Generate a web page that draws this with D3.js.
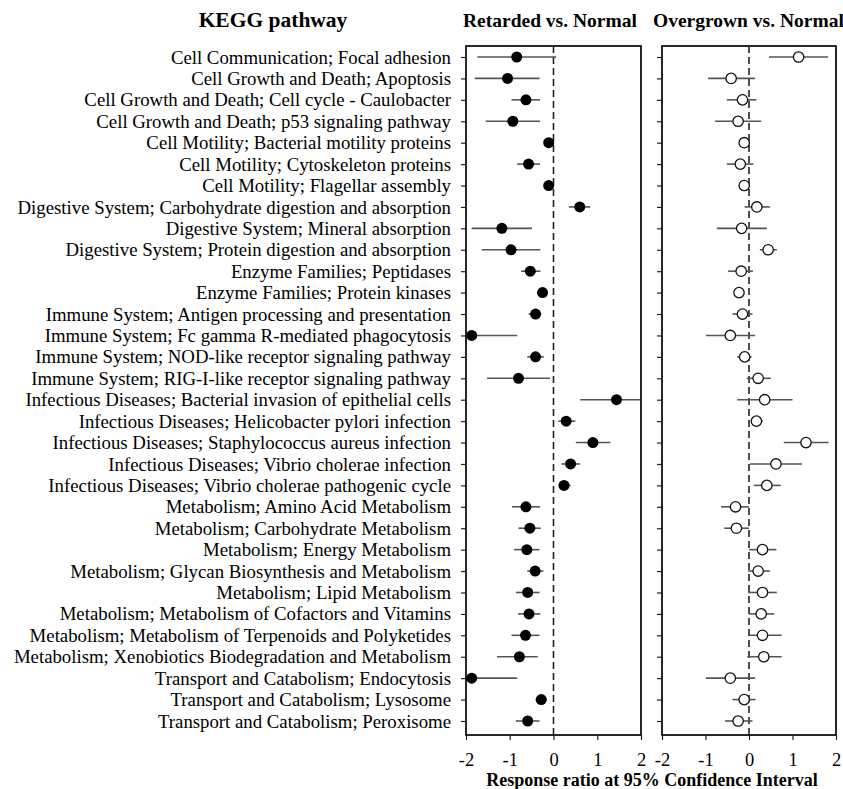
<!DOCTYPE html>
<html>
<head>
<meta charset="UTF-8" />
<title>KEGG pathway response ratios</title>
<script src="https://d3js.org/d3.v7.min.js"></script>
<style>
  html, body { margin: 0; padding: 0; background: #fff; }
  svg text { font-family: "Liberation Serif", "Times New Roman", serif; fill: #000; }
</style>
</head>
<body>
<div id="chart"></div>
<script>
// KEGG pathway categories (top to bottom)
const pathways = [
  "Cell Communication; Focal adhesion",
  "Cell Growth and Death; Apoptosis",
  "Cell Growth and Death; Cell cycle - Caulobacter",
  "Cell Growth and Death; p53 signaling pathway",
  "Cell Motility; Bacterial motility proteins",
  "Cell Motility; Cytoskeleton proteins",
  "Cell Motility; Flagellar assembly",
  "Digestive System; Carbohydrate digestion and absorption",
  "Digestive System; Mineral absorption",
  "Digestive System; Protein digestion and absorption",
  "Enzyme Families; Peptidases",
  "Enzyme Families; Protein kinases",
  "Immune System; Antigen processing and presentation",
  "Immune System; Fc gamma R-mediated phagocytosis",
  "Immune System; NOD-like receptor signaling pathway",
  "Immune System; RIG-I-like receptor signaling pathway",
  "Infectious Diseases; Bacterial invasion of epithelial cells",
  "Infectious Diseases; Helicobacter pylori infection",
  "Infectious Diseases; Staphylococcus aureus infection",
  "Infectious Diseases; Vibrio cholerae infection",
  "Infectious Diseases; Vibrio cholerae pathogenic cycle",
  "Metabolism; Amino Acid Metabolism",
  "Metabolism; Carbohydrate Metabolism",
  "Metabolism; Energy Metabolism",
  "Metabolism; Glycan Biosynthesis and Metabolism",
  "Metabolism; Lipid Metabolism",
  "Metabolism; Metabolism of Cofactors and Vitamins",
  "Metabolism; Metabolism of Terpenoids and Polyketides",
  "Metabolism; Xenobiotics Biodegradation and Metabolism",
  "Transport and Catabolism; Endocytosis",
  "Transport and Catabolism; Lysosome",
  "Transport and Catabolism; Peroxisome"
];

// Retarded vs. Normal: mean, lower, upper
const retardedMean = [-0.84, -1.05, -0.63, -0.93, -0.11, -0.57, -0.11, 0.60, -1.18, -0.97,
  -0.53, -0.25, -0.41, -1.87, -0.41, -0.80, 1.44, 0.29, 0.90, 0.39, 0.24,
  -0.63, -0.54, -0.61, -0.42, -0.59, -0.56, -0.64, -0.78, -1.87, -0.28, -0.59];
const retardedLow = [-1.74, -1.80, -0.96, -1.55, -0.15, -0.83, -0.15, 0.35, -1.87, -1.64,
  -0.74, -0.38, -0.57, -1.98, -0.60, -1.52, 0.61, 0.11, 0.51, 0.18, 0.12,
  -0.95, -0.80, -0.90, -0.60, -0.86, -0.81, -0.96, -1.29, -1.98, -0.41, -0.86];
const retardedHigh = [0.06, -0.32, -0.31, -0.31, -0.07, -0.31, -0.07, 0.84, -0.49, -0.30,
  -0.30, -0.13, -0.28, -0.83, -0.22, -0.08, 1.98, 0.50, 1.30, 0.61, 0.39,
  -0.31, -0.29, -0.32, -0.23, -0.32, -0.30, -0.32, -0.36, -0.83, -0.15, -0.32];

// Overgrown vs. Normal: mean, lower, upper
const overgrownMean = [1.14, -0.41, -0.15, -0.25, -0.11, -0.20, -0.11, 0.18, -0.17, 0.44,
  -0.18, -0.23, -0.15, -0.43, -0.10, 0.21, 0.36, 0.17, 1.31, 0.62, 0.41,
  -0.31, -0.29, 0.31, 0.21, 0.31, 0.28, 0.31, 0.34, -0.43, -0.11, -0.25];
const overgrownLow = [0.46, -0.94, -0.51, -0.78, -0.14, -0.51, -0.14, -0.10, -0.74, 0.25,
  -0.48, -0.26, -0.38, -0.99, -0.27, -0.05, -0.27, 0.05, 0.80, 0.02, 0.11,
  -0.64, -0.57, 0.00, -0.02, -0.02, 0.00, -0.02, -0.04, -0.99, -0.38, -0.55];
const overgrownHigh = [1.82, 0.14, 0.17, 0.28, -0.08, 0.10, -0.08, 0.48, 0.41, 0.64,
  0.09, -0.20, 0.08, 0.14, 0.06, 0.50, 1.00, 0.32, 1.83, 1.22, 0.73,
  0.00, 0.00, 0.63, 0.48, 0.64, 0.58, 0.75, 0.75, 0.14, 0.15, 0.08];

const xTicks = [-2, -1, 0, 1, 2];

const width = 843, height = 789;
const frameTop = 46, frameBottom = 735;

const svg = d3.select("#chart").append("svg")
  .attr("width", width)
  .attr("height", height);

const y = d3.scalePoint()
  .domain(pathways)
  .range([57, 721]);

// headers
svg.append("text")
  .attr("x", 273).attr("y", 27)
  .attr("text-anchor", "middle")
  .attr("font-weight", "bold")
  .attr("font-size", 21.5)
  .text("KEGG pathway");

// row labels
svg.selectAll(".row-label")
  .data(pathways)
  .enter()
  .append("text")
  .attr("class", "row-label")
  .attr("x", 451)
  .attr("y", d => y(d))
  .attr("dy", "0.35em")
  .attr("text-anchor", "end")
  .attr("font-size", 18.8)
  .text(d => d);

const panels = [
  { title: "Retarded vs. Normal", x0: 466, x1: 641, filled: true, titleX: 463,
    mean: retardedMean, low: retardedLow, high: retardedHigh },
  { title: "Overgrown vs. Normal", x0: 662, x1: 836, filled: false, titleX: 653,
    mean: overgrownMean, low: overgrownLow, high: overgrownHigh }
];

panels.forEach(p => {
  const x = d3.scaleLinear().domain([-2, 2]).range([p.x0, p.x1]);
  const g = svg.append("g");

  g.append("text")
    .attr("x", p.titleX)
    .attr("y", 27)
    .attr("font-weight", "bold")
    .attr("font-size", 19.5)
    .text(p.title);

  // left axis ticks (no labels)
  g.append("g")
    .attr("transform", `translate(${p.x0},0)`)
    .call(d3.axisLeft(y).tickSize(5).tickFormat(""))
    .call(a => a.select(".domain").remove())
    .call(a => a.selectAll("line").attr("stroke", "#222").attr("stroke-width", 1.2));

  // bottom axis
  g.append("g")
    .attr("transform", `translate(0,${frameBottom})`)
    .call(d3.axisBottom(x).tickValues(xTicks).tickSize(5).tickPadding(13).tickFormat(d3.format("d")))
    .call(a => a.select(".domain").remove())
    .call(a => a.selectAll("line").attr("stroke", "#222").attr("stroke-width", 1.2))
    .call(a => a.selectAll("text")
      .attr("font-size", 18.5)
      .attr("font-family", "Liberation Serif, serif")
      .attr("fill", "#111")
      .text(d => d < 0 ? "-" + Math.abs(d) : d));

  // frame
  g.append("rect")
    .attr("x", p.x0).attr("y", frameTop)
    .attr("width", p.x1 - p.x0)
    .attr("height", frameBottom - frameTop)
    .attr("fill", "none")
    .attr("stroke", "#111")
    .attr("stroke-width", 1.8);

  // zero line
  g.append("line")
    .attr("x1", x(0)).attr("x2", x(0))
    .attr("y1", frameTop).attr("y2", frameBottom)
    .attr("stroke", "#222")
    .attr("stroke-width", 1.6)
    .attr("stroke-dasharray", "7,4");

  const rows = pathways.map((name, i) => ({
    name, mean: p.mean[i], low: p.low[i], high: p.high[i]
  }));

  g.selectAll(".ci")
    .data(rows)
    .enter()
    .append("line")
    .attr("class", "ci")
    .attr("x1", d => x(d.low))
    .attr("x2", d => x(d.high))
    .attr("y1", d => y(d.name))
    .attr("y2", d => y(d.name))
    .attr("stroke", "#555")
    .attr("stroke-width", 1.6);

  g.selectAll(".dot")
    .data(rows)
    .enter()
    .append("circle")
    .attr("class", "dot")
    .attr("cx", d => x(d.mean))
    .attr("cy", d => y(d.name))
    .attr("r", p.filled ? 5.5 : 5.2)
    .attr("fill", p.filled ? "#000" : "#fff")
    .attr("stroke", "#111")
    .attr("stroke-width", p.filled ? 0 : 1.3);
});

svg.append("text")
  .attr("x", 652).attr("y", 786)
  .attr("text-anchor", "middle")
  .attr("font-weight", "bold")
  .attr("font-size", 18)
  .text("Response ratio at 95% Confidence Interval");
</script>
</body>
</html>
